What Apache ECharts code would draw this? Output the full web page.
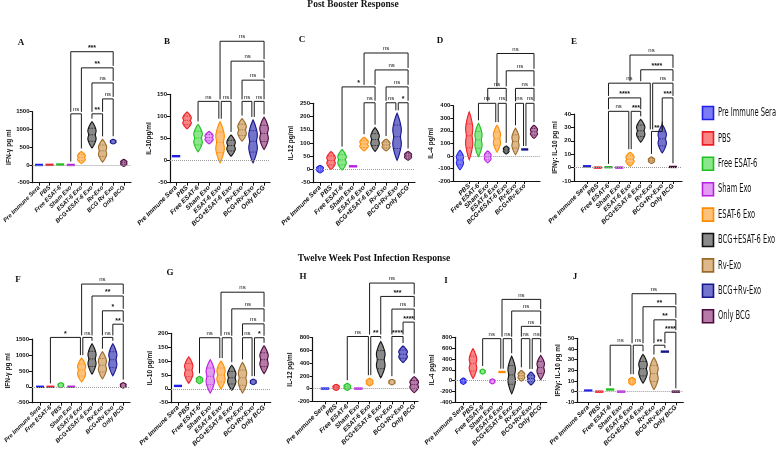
<!DOCTYPE html>
<html>
<head>
<meta charset="utf-8">
<script src="https://cdn.jsdelivr.net/npm/echarts@6/dist/echarts.min.js"></script>
<style>
  html, body { margin: 0; padding: 0; background: #fff; }
  #chart { width: 779px; height: 451px; }
</style>
</head>
<body>
<div id="chart"></div>
<script>
// groups (legend order == violin order in every panel)
var groupNames = ['Pre Immune Sera', 'PBS', 'Free ESAT-6', 'Sham Exo', 'ESAT-6 Exo', 'BCG+ESAT-6 Exo', 'Rv-Exo', 'BCG+Rv-Exo', 'Only BCG'];
var strokeColors = ['#1f1fe6', '#ee1c24', '#1fbf1f', '#b81fe0', '#ff8c00', '#111111', '#9a6a2a', '#16168c', '#4a0a3a'];
var fillColors = ['#7c7cf6', '#f98484', '#8ae88a', '#e29cf2', '#ffc27a', '#8a8a8a', '#dcb88a', '#7474cc', '#b67aa8'];

// x tick labels
var catsA = ['Pre Immune Sera', 'PBS', 'Free ESAT-6', 'Sham Exo', 'ESAT-6 Exo', 'BCG+ESAT-6 Exo', 'Rv-Exo', 'BCG Rv Exo', 'Only BCG'];
var catsStd = ['Pre Immune Sera', 'PBS', 'Free ESAT-6', 'Sham Exo', 'ESAT-6 Exo', 'BCG+ESAT-6 Exo', 'Rv-Exo', 'BCG+Rv-Exo', 'Only BCG'];
var catsF = ['Pre Immune Sera', 'Free ESAT-6', 'PBS', 'Sham Exo', 'ESAT-6 Exo', 'BCG+ESAT-6 Exo', 'Rv-Exo', 'BCG+Rv Exo', 'Only BCG'];

// violin ranges [min, max] per group
var ifnBoost  = [[-20, 20], [-10, 15], [0, 25], [-10, 10], [40, 380], [480, 1220], [80, 720], [590, 725], [-40, 160]];
var il10Boost = [[8, 12], [72, 110], [20, 82], [38, 66], [-5, 88], [10, 58], [44, 95], [-5, 92], [25, 98]];
var il12Boost = [[-13, 16], [0, 68], [-2, 75], [10, 14], [70, 122], [68, 158], [70, 115], [35, 212], [35, 68]];
var il4Boost  = [[-110, 45], [-30, 350], [-5, 260], [-55, 40], [30, 245], [15, 80], [10, 220], [48, 55], [140, 245]];
var ratioBoost = [[0, 2], [-0.3, 0.3], [0, 0.6], [-0.3, 0.3], [1, 11.5], [19, 36], [3, 8], [11, 32], [0, 1]];
var ifnInf  = [[-10, 10], [-10, 10], [-30, 130], [-10, 10], [150, 900], [400, 1350], [250, 1100], [350, 1350], [-40, 130]];
var il10Inf = [[9, 12], [20, 115], [18, 45], [-15, 105], [0, 100], [-5, 85], [-15, 95], [15, 35], [55, 155]];
var il12Inf = [[-8, 8], [-30, 68], [-30, 84], [-8, 8], [42, 163], [170, 740], [58, 147], [410, 670], [-63, 189]];
var il4Inf  = [[-70, 50], [40, 590], [120, 215], [-60, 35], [155, 165], [-240, 450], [-10, 190], [-80, 160], [20, 465]];
var ratioInf = [[0.5, 1.5], [-0.3, 0.3], [1.5, 2.5], [-0.3, 0.3], [6, 13.5], [8, 35], [2, 32], [37, 38], [-0.3, 0.3]];

// significance brackets [from, to, y, label]
var sigA = [[3, 4, 1440, 'ns'], [5, 6, 1440, '**'], [6, 7, 1860, 'ns'], [5, 7, 2310, 'ns'], [4, 7, 2735, '**'], [3, 7, 3190, '***']];
var sigB = [[2, 4, 134, 'ns'], [4, 5, 134, 'ns'], [6, 7, 134, 'ns'], [7, 8, 134, 'ns'], [6, 8, 182, 'ns'], [5, 8, 225, 'ns'], [4, 8, 270, 'ns']];
var sigC = [[4, 5, 252, 'ns'], [6, 7, 252, 'ns'], [7, 8, 252, '*'], [2, 5, 312, '*'], [6, 8, 312, 'ns'], [5, 8, 376, 'ns'], [4, 8, 440, 'ns']];
var sigD = [[2, 4, 419, 'ns'], [4, 5, 419, 'ns'], [6, 7, 419, 'ns'], [7, 8, 419, 'ns'], [3, 5, 538, 'ns'], [6, 8, 538, 'ns'], [5, 8, 678, 'ns'], [4, 8, 816, 'ns']];
var sigE = [[2, 4, 42, 'ns'], [4, 5, 42, '***'], [6, 7, 27, '**'], [7, 8, 52, '***'], [2, 5, 52, '****'], [2, 6, 63, 'ns'], [6, 8, 63, 'ns'], [5, 8, 73, '****'], [4, 8, 84, 'ns']];
var sigF = [[1, 4, 1550, '*'], [4, 5, 1550, 'ns'], [6, 7, 1550, 'ns'], [7, 8, 1965, '**'], [6, 8, 2385, '*'], [5, 8, 2850, '**'], [4, 8, 3225, 'ns']];
var sigG = [[2, 4, 184, 'ns'], [4, 5, 184, 'ns'], [6, 7, 184, 'ns'], [7, 8, 184, '*'], [6, 8, 234, 'ns'], [5, 8, 288, 'ns'], [4, 8, 348, 'ns']];
var sigH = [[2, 4, 819, 'ns'], [4, 5, 819, '**'], [6, 7, 819, '****'], [7, 8, 1045, '****'], [6, 8, 1250, 'ns'], [5, 8, 1449, '***'], [4, 8, 1659, 'ns']];
var sigI = [[2, 4, 775, 'ns'], [4, 5, 775, 'ns'], [6, 7, 775, 'ns'], [7, 8, 775, 'ns'], [6, 8, 1002, 'ns'], [5, 8, 1285, 'ns'], [4, 8, 1500, 'ns']];
var sigJ = [[2, 4, 43.5, 'ns'], [4, 5, 43.5, 'ns'], [6, 7, 43.5, '**'], [7, 8, 55.7, '****'], [6, 8, 67.3, '**'], [5, 8, 79.6, '**'], [4, 8, 91.8, 'ns']];

// y axes [min, max, step]
var yTicksA = [-500, 1500, 500], yTicksB = [-50, 150, 50], yTicksC = [-50, 250, 50], yTicksD = [-200, 400, 100], yTicksE = [-10, 40, 10];
var yTicksF = [-500, 1500, 500], yTicksG = [-50, 200, 50], yTicksH = [-200, 800, 200], yTicksI = [-400, 800, 200], yTicksJ = [-10, 50, 10];

var panels = [
  { letter: 'A', cats: catsA,   yName: 'IFN-\u03b3 pg ml',        yTicks: yTicksA, ranges: ifnBoost,   sig: sigA },
  { letter: 'B', cats: catsStd, yName: 'IL-10pg/ml',              yTicks: yTicksB, ranges: il10Boost,  sig: sigB },
  { letter: 'C', cats: catsStd, yName: 'IL-12 pg/ml',             yTicks: yTicksC, ranges: il12Boost,  sig: sigC },
  { letter: 'D', cats: catsStd, yName: 'IL-4 pg/ml',              yTicks: yTicksD, ranges: il4Boost,   sig: sigD },
  { letter: 'E', cats: catsStd, yName: 'IFN\u03b3: IL-10 pg ml',  yTicks: yTicksE, ranges: ratioBoost, sig: sigE },
  { letter: 'F', cats: catsF,   yName: 'IFN-\u03b3 pg ml',        yTicks: yTicksF, ranges: ifnInf,     sig: sigF },
  { letter: 'G', cats: catsStd, yName: 'IL-10 pg/ml',             yTicks: yTicksG, ranges: il10Inf,    sig: sigG },
  { letter: 'H', cats: catsStd, yName: 'IL-12 pg/ml',             yTicks: yTicksH, ranges: il12Inf,    sig: sigH },
  { letter: 'I', cats: catsStd, yName: 'IL-4 pg/ml',              yTicks: yTicksI, ranges: il4Inf,     sig: sigI },
  { letter: 'J', cats: catsStd, yName: 'IFN\u03b3: IL-10 pg ml',  yTicks: yTicksJ, ranges: ratioInf,   sig: sigJ }
];

// layout: plot box (px), x range in category units, letter position, y-name gap, label size
var layout = [
  { l: 32.5, t: 111.7, r: 131,   b: 182.7, xMin: -0.61, xMax: 8.68, lx: 21,  ly: 43,  gap: 19, fs: 6 },
  { l: 170,  t: 94.3,  r: 270,   b: 182.7, xMin: -0.55, xMax: 8.54, lx: 167, ly: 42,  gap: 14, fs: 6.5 },
  { l: 313,  t: 103.3, r: 415,   b: 182.7, xMin: -0.64, xMax: 8.63, lx: 302, ly: 40,  gap: 18, fs: 6.5 },
  { l: 453.3,t: 105.7, r: 540,   b: 181,   xMin: -0.72, xMax: 8.65, lx: 440, ly: 41,  gap: 12, fs: 6.5 },
  { l: 574,  t: 114,   r: 682,   b: 181,   xMin: -1.21, xMax: 8.84, lx: 574, ly: 42,  gap: 11, fs: 6.5 },
  { l: 32,   t: 339,   r: 130,   b: 402.7, xMin: -0.77, xMax: 8.65, lx: 18,  ly: 280, gap: 19, fs: 6 },
  { l: 171,  t: 333.3, r: 270.7, b: 402.7, xMin: -0.65, xMax: 8.62, lx: 170, ly: 273, gap: 13, fs: 6.5 },
  { l: 312.7,t: 337.7, r: 418,   b: 401.3, xMin: -1.1,  xMax: 8.34, lx: 303, ly: 277, gap: 13, fs: 6.5 },
  { l: 455,  t: 337.3, r: 546.7, b: 402.3, xMin: -0.86, xMax: 8.62, lx: 446, ly: 281, gap: 12, fs: 6.5 },
  { l: 577.3,t: 338.3, r: 683.3, b: 402.3, xMin: -1.0,  xMax: 8.68, lx: 575, ly: 277, gap: 11, fs: 6.5 }
];

var catTicks = [0, 1, 2, 3, 4, 5, 6, 7, 8];

// double-lobed violin outline
function prof(t) {
  return Math.pow(Math.sin(Math.PI * t), 0.85) * (1 - 0.3 * Math.exp(-Math.pow((t - 0.5) / 0.11, 2)));
}

function renderViolin(params, api) {
  var i = api.value(0);
  var pLo = api.coord([i, api.value(1)]);
  var pHi = api.coord([i, api.value(2)]);
  var band = api.size([1, 0])[0];
  var cx = pLo[0];
  var h = pLo[1] - pHi[1];
  var k = params.dataIndex;
  if (h < 3) {
    var hd = band * 0.38;
    return {
      type: 'rect',
      shape: { x: cx - hd, y: (pLo[1] + pHi[1]) / 2 - 1.2, width: hd * 2, height: 2.4 },
      style: { fill: strokeColors[k], stroke: null }
    };
  }
  // small blobs are narrower than the tall violins
  var half = band * 0.45 * Math.min(1, 0.55 + h / 30);
  var pts = [], n = 32, s, t;
  for (s = 0; s <= n; s++) { t = s / n; pts.push([cx + half * prof(t), pLo[1] - h * t]); }
  for (s = n; s >= 0; s--) { t = s / n; pts.push([cx - half * prof(t), pLo[1] - h * t]); }
  var kids = [{ type: 'polygon', shape: { points: pts }, style: { fill: fillColors[k], stroke: strokeColors[k], lineWidth: 1.1 } }];
  if (h > 6) {
    [0.25, 0.5, 0.75].forEach(function (q) {
      var w = half * prof(q) * 0.85, y = pLo[1] - h * q;
      kids.push({ type: 'line', shape: { x1: cx - w, y1: y, x2: cx + w, y2: y },
        style: { fill: 'none', stroke: strokeColors[k], lineWidth: 0.7, lineDash: [1.5, 1] } });
    });
  }
  return { type: 'group', children: kids };
}

function bracketRenderer(sig, ranges) {
  return function (params, api) {
    var b = sig[params.dataIndex];
    var yLine = api.coord([b[0], b[2]])[1];
    function legEnd(i) {
      var best = null;
      sig.forEach(function (o) {
        if (o[2] < b[2] && o[0] <= i && i <= o[1] && (best === null || o[2] > best)) best = o[2];
      });
      if (best !== null) return api.coord([i, best])[1] - 2;
      return api.coord([i, ranges[i][1]])[1] - 3;
    }
    // nudge legs shared with a neighbour at the same height
    var sh1 = 0, sh2 = 0;
    sig.forEach(function (o) {
      if (o === b || o[2] !== b[2]) return;
      if (o[1] === b[0]) sh1 = 1.2;
      if (o[0] === b[1]) sh2 = -1.2;
    });
    var x1 = api.coord([b[0], 0])[0] + sh1;
    var x2 = api.coord([b[1], 0])[0] + sh2;
    var star = b[3] !== 'ns';
    return {
      type: 'group',
      children: [
        { type: 'polyline', shape: { points: [[x1, legEnd(b[0])], [x1, yLine], [x2, yLine], [x2, legEnd(b[1])]] },
          style: { fill: 'none', stroke: '#1a1a1a', lineWidth: 1 } },
        { type: 'text', x: (x1 + x2) / 2, y: yLine - (star ? 0 : 1.5),
          style: { text: b[3], align: 'center', verticalAlign: 'bottom', fill: '#111', stroke: null,
                   font: (star ? 'bold 7px' : '6px') + ' "Liberation Sans", Arial, sans-serif' } }
      ]
    };
  };
}

var grids = [], xAxes = [], yAxes = [], series = [];
var titles = [
  { text: 'Post Booster Response', left: 353, top: 0, textAlign: 'center', padding: 0,
    textStyle: { fontFamily: 'Liberation Serif', fontWeight: 'bold', fontSize: 9.5, color: '#111' } },
  { text: 'Twelve Week Post Infection Response', left: 374, top: 254, textAlign: 'center', padding: 0,
    textStyle: { fontFamily: 'Liberation Serif', fontWeight: 'bold', fontSize: 9.5, color: '#111' } }
];

panels.forEach(function (p, k) {
  var L = layout[k];
  grids.push({ left: L.l, top: L.t, width: L.r - L.l, height: L.b - L.t, containLabel: false });
  xAxes.push({
    type: 'value', gridIndex: k, min: L.xMin, max: L.xMax,
    splitLine: { show: false },
    axisLine: { show: true, onZero: false, lineStyle: { color: '#111', width: 1.2 } },
    axisTick: { show: true, customValues: catTicks, length: 3, lineStyle: { color: '#111' } },
    axisLabel: {
      customValues: catTicks, rotate: 45, margin: 4, color: '#111',
      fontSize: L.fs, fontStyle: 'italic', fontWeight: 'bold', fontFamily: 'Liberation Sans, Arial, sans-serif',
      formatter: function (v) { return p.cats[Math.round(v)] || ''; }
    }
  });
  yAxes.push({
    type: 'value', gridIndex: k, min: p.yTicks[0], max: p.yTicks[1], interval: p.yTicks[2],
    name: p.yName, nameLocation: 'middle', nameGap: L.gap,
    nameTextStyle: { fontSize: 6.5, fontWeight: 'bold', color: '#111', fontFamily: 'Liberation Sans, Arial, sans-serif' },
    splitLine: { show: false },
    axisLine: { show: true, onZero: false, lineStyle: { color: '#111', width: 1.2 } },
    axisTick: { show: true, length: 3, lineStyle: { color: '#111' } },
    axisLabel: { fontSize: 6, fontWeight: 'bold', margin: 3, color: '#111', fontFamily: 'Liberation Sans, Arial, sans-serif',
      formatter: function (v) { return String(v); } }
  });
  series.push({
    type: 'custom', xAxisIndex: k, yAxisIndex: k, clip: false,
    data: p.ranges.map(function (r, i) { return [i, r[0], r[1]]; }),
    renderItem: renderViolin,
    markLine: {
      silent: true, symbol: 'none', label: { show: false },
      lineStyle: { color: '#9a9a9a', type: 'dotted', width: 1 },
      data: [{ yAxis: 0 }]
    },
    z: 3
  });
  series.push({
    type: 'custom', xAxisIndex: k, yAxisIndex: k, clip: false,
    data: p.sig.map(function (b) { return [b[0], b[1], b[2]]; }),
    renderItem: bracketRenderer(p.sig, p.ranges),
    z: 4
  });
  titles.push({ text: p.letter, left: L.lx, top: L.ly - 5, textAlign: 'center', padding: 0,
    textStyle: { fontFamily: 'Liberation Serif', fontWeight: 'bold', fontSize: 9, color: '#111' } });
});

// legend (condensed text like the original)
var legendFont = '12px "Liberation Sans Narrow", "DejaVu Sans Condensed", Arial, sans-serif';
var ctx = document.createElement('canvas').getContext('2d');
ctx.font = legendFont;
var legendScale = 58 / ctx.measureText('Pre Immune Sera').width;
var legendItems = [];
groupNames.forEach(function (name, k) {
  var y = 113 + k * 25.4;
  legendItems.push({ type: 'rect', shape: { x: 702.5, y: y - 6.5, width: 11, height: 13 },
    style: { fill: fillColors[k], stroke: strokeColors[k], lineWidth: 1.6 } });
  legendItems.push({ type: 'text', x: 718, y: y, scaleX: legendScale,
    style: { text: name, font: legendFont, fill: '#111', verticalAlign: 'middle' } });
});

var chart = echarts.init(document.getElementById('chart'));
chart.setOption({
  animation: false,
  backgroundColor: '#fff',
  title: titles,
  grid: grids,
  xAxis: xAxes,
  yAxis: yAxes,
  series: series,
  graphic: legendItems
});
</script>
</body>
</html>
